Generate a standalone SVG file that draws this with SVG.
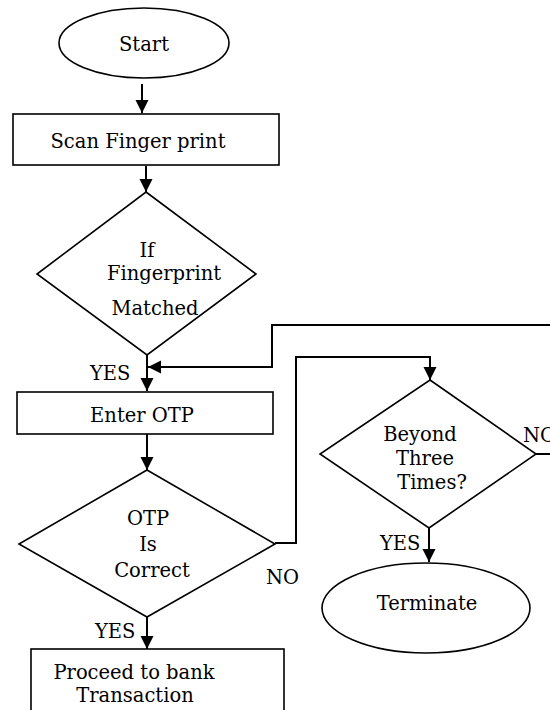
<svg xmlns="http://www.w3.org/2000/svg" width="550" height="710" viewBox="0 0 550 710">
<style>
.s{fill:#fff;stroke:#000;stroke-width:1.6}
.c{fill:none;stroke:#000;stroke-width:2}
text{font-family:'DejaVu Serif',serif;font-size:19.5px;fill:#000;text-anchor:middle}
.l{text-anchor:start}
</style>
<defs>
<marker id="ah" markerUnits="userSpaceOnUse" markerWidth="14" markerHeight="14" refX="13" refY="6.5" orient="auto">
<path d="M0,0 L13,6.5 L0,13 z" fill="#000"/>
</marker>
</defs>
<rect width="550" height="710" fill="#fff"/>
<g id="connectors">
<line class="c" x1="142" y1="84" x2="142" y2="113" marker-end="url(#ah)"/>
<line class="c" x1="146" y1="166" x2="146" y2="192" marker-end="url(#ah)"/>
<line class="c" x1="147" y1="355" x2="147" y2="391" marker-end="url(#ah)"/>
<line class="c" x1="147" y1="434" x2="147" y2="470" marker-end="url(#ah)"/>
<line class="c" x1="147" y1="617" x2="147" y2="649" marker-end="url(#ah)"/>
<polyline class="c" points="536,454 556,454 556,325 272,325 272,367 148,367" marker-end="url(#ah)"/>
<polyline class="c" points="275,543 296,543 296,357 430,357 430,380" marker-end="url(#ah)"/>
<line class="c" x1="429" y1="528" x2="429" y2="562" marker-end="url(#ah)"/>
</g>
<g id="start">
<ellipse class="s" cx="144" cy="43" rx="85" ry="35"/>
<text x="144" y="51">Start</text>
</g>
<g id="scan">
<rect class="s" x="13" y="114" width="266" height="51"/>
<text x="138" y="148">Scan Finger print</text>
</g>
<g id="fingerprint-check">
<polygon class="s" points="146,192 256,274 147,355 37,274"/>
<text x="147" y="257">If</text>
<text x="164" y="280">Fingerprint</text>
<text x="155" y="315">Matched</text>
<text class="l" x="90" y="380">YES</text>
</g>
<g id="enter-otp">
<rect class="s" x="17" y="392" width="256" height="42"/>
<text x="142" y="422">Enter OTP</text>
</g>
<g id="otp-check">
<polygon class="s" points="147,470 275,544 147,617 19,544"/>
<text x="148" y="525">OTP</text>
<text x="148" y="551">Is</text>
<text x="152" y="577">Correct</text>
<text class="l" x="266" y="584">NO</text>
<text class="l" x="95" y="638">YES</text>
</g>
<g id="proceed">
<rect class="s" x="31" y="649" width="253" height="70"/>
<text x="134" y="679">Proceed to bank</text>
<text x="135" y="702">Transaction</text>
</g>
<g id="beyond-check">
<polygon class="s" points="430,380 536,454 429,528 320,454"/>
<text x="420" y="441">Beyond</text>
<text x="425" y="465">Three</text>
<text x="432" y="489">Times?</text>
<text class="l" x="523" y="442">NO</text>
<text class="l" x="380" y="550">YES</text>
</g>
<g id="terminate">
<ellipse class="s" cx="426" cy="608" rx="104" ry="45"/>
<text x="427" y="610">Terminate</text>
</g>
</svg>
